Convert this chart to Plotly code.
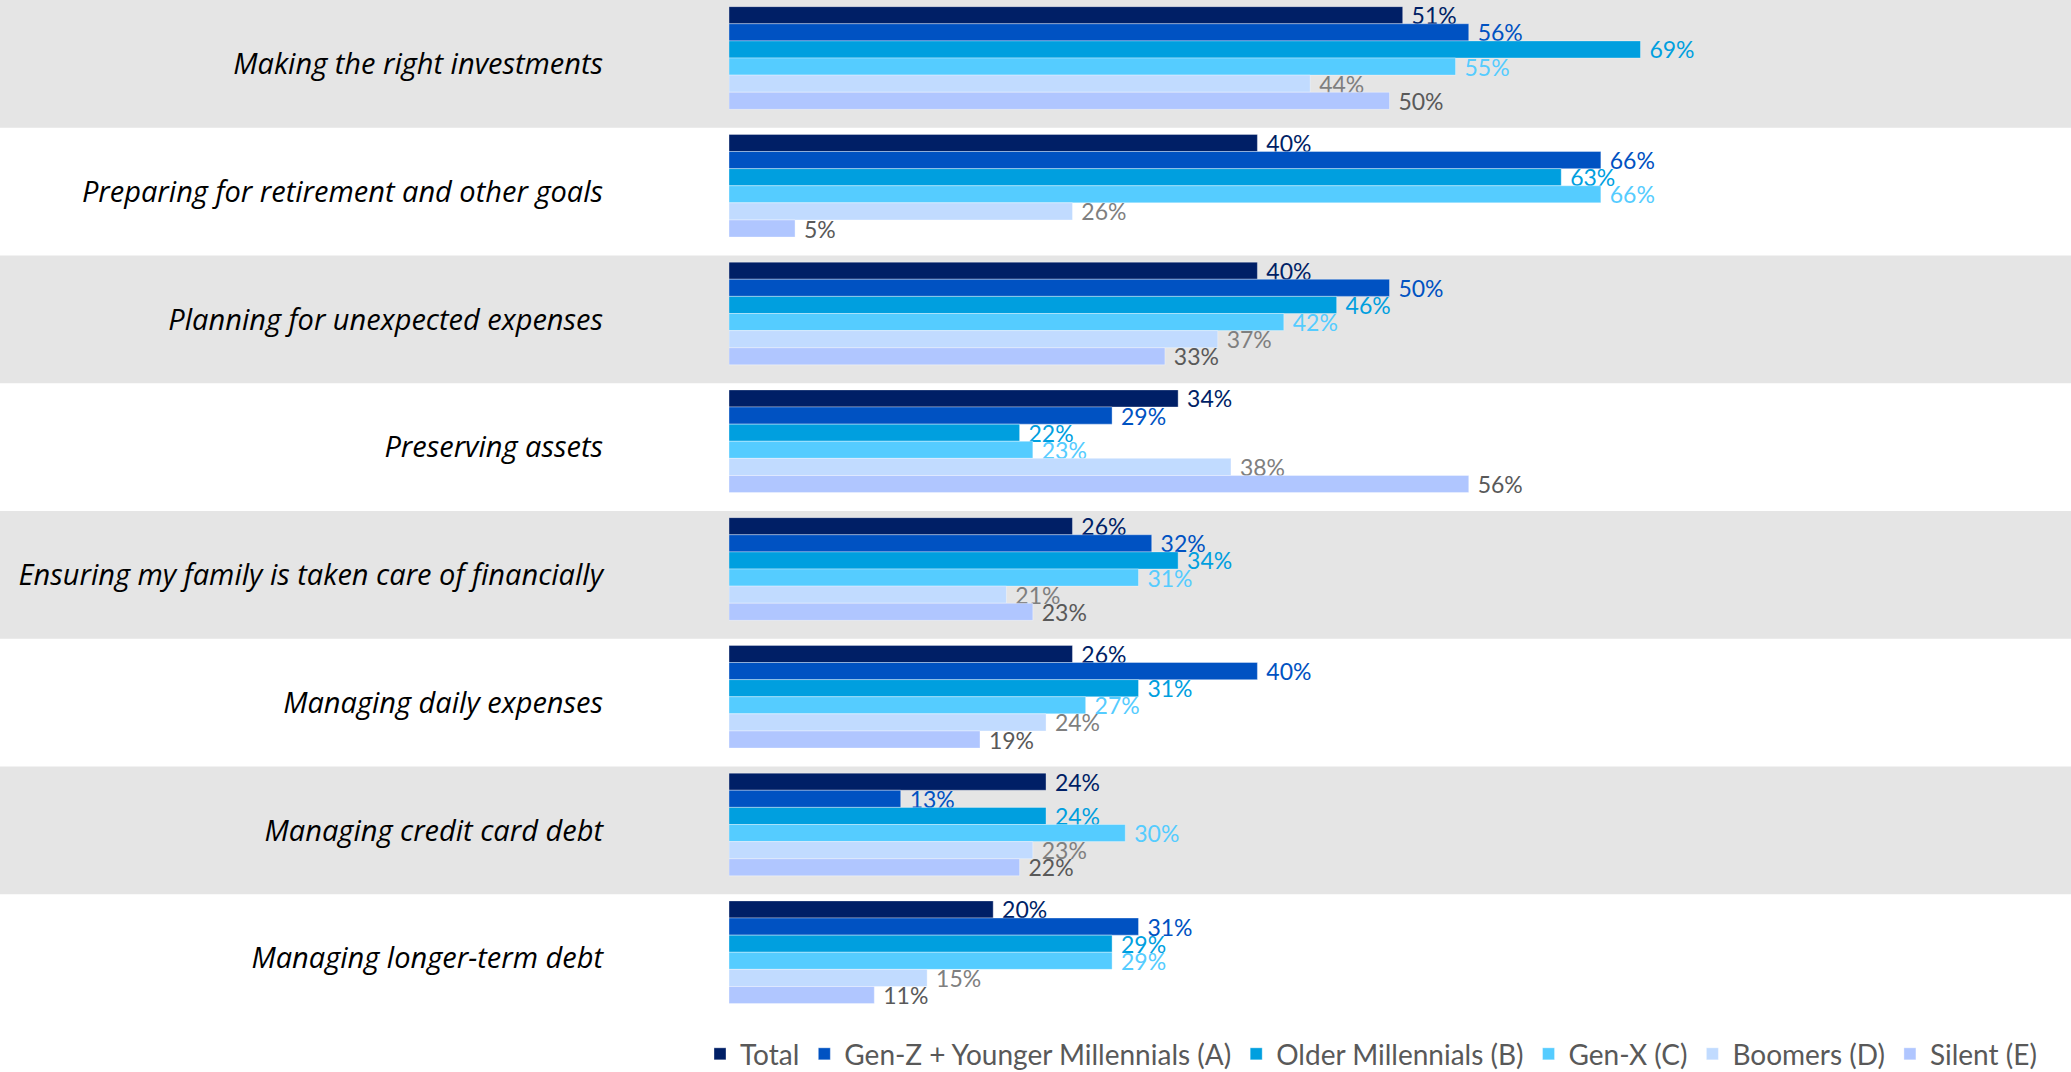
import plotly.graph_objects as go

# Survey categories, top to bottom
categories = [
    "Making the right investments",
    "Preparing for retirement and other goals",
    "Planning for unexpected expenses",
    "Preserving assets",
    "Ensuring my family is taken care of financially",
    "Managing daily expenses",
    "Managing credit card debt",
    "Managing longer-term debt",
]

# Percent of respondents per generation group
total = [51, 40, 40, 34, 26, 26, 24, 20]
genz_younger_mill = [56, 66, 50, 29, 32, 40, 13, 31]
older_mill = [69, 63, 46, 22, 34, 31, 24, 29]
gen_x = [55, 66, 42, 23, 31, 27, 30, 29]
boomers = [44, 26, 37, 38, 21, 24, 23, 15]
silent = [50, 5, 33, 56, 23, 19, 22, 11]

series_names = [
    "Total",
    "Gen-Z + Younger Millennials (A)",
    "Older Millennials (B)",
    "Gen-X (C)",
    "Boomers (D)",
    "Silent (E)",
]
series_values = [total, genz_younger_mill, older_mill, gen_x, boomers, silent]
bar_colors = ["#001F66", "#0052C2", "#009FDF", "#55CCFF", "#C1DBFF", "#B0C6FF"]
label_colors = ["#001F66", "#0052C2", "#009FDF", "#55CCFF", "#7F7F7F", "#595959"]

W, H = 2071, 1072
LEFT, BOTTOM = 729, 50
PX_PER_PCT = 13.21
x_max = (W - LEFT) / PX_PER_PCT

BAR_W = 0.134        # thickness of each bar, in category units
GROUP_START = -0.448  # top edge of the first bar relative to category centre

fig = go.Figure()
for i, (name, vals, col, lcol) in enumerate(zip(series_names, series_values, bar_colors, label_colors)):
    fig.add_trace(go.Bar(
        y=categories,
        x=vals,
        name=name,
        orientation="h",
        width=BAR_W,
        offset=GROUP_START + i * BAR_W,
        marker=dict(color=col, line=dict(color="rgba(255,255,255,0.35)", width=1)),
        text=[f"\u00a0{v}%" for v in vals],
        textposition="outside",
        constraintext="none",
        cliponaxis=False,
        textfont=dict(family="Lato, Open Sans, sans-serif", size=23, color=lcol),
        hoverinfo="skip",
    ))

# Alternating grey bands behind each category row, spanning the full width
plot_w = W - LEFT
for i in range(len(categories)):
    if i % 2 == 0:
        fig.add_shape(
            type="rect", layer="below",
            xref="paper", yref="y",
            x0=-LEFT / plot_w, x1=1.0,
            y0=i - 0.5, y1=i + 0.5,
            fillcolor="#E5E5E5", line=dict(width=0),
        )

fig.update_layout(
    width=W, height=H,
    margin=dict(l=LEFT, r=0, t=0, b=BOTTOM, autoexpand=False),
    paper_bgcolor="white",
    plot_bgcolor="rgba(0,0,0,0)",
    barmode="group",
    showlegend=True,
    legend=dict(
        orientation="h",
        xref="container", yref="container",
        x=0.662, y=0.04,
        xanchor="center", yanchor="top",
        font=dict(family="Lato, Open Sans, sans-serif", size=28, color="#595959"),
        itemwidth=30,
        tracegroupgap=0,
        borderwidth=0,
    ),
    xaxis=dict(
        range=[0, x_max],
        showgrid=False, zeroline=False, showticklabels=False, showline=False,
    ),
    yaxis=dict(
        autorange="reversed",
        showgrid=False, zeroline=False, showline=False,
        ticks="",
        ticklabelstandoff=125,
        tickfont=dict(family="Open Sans, sans-serif", size=29, color="black"),
    ),
)

# Italic category labels
fig.update_yaxes(ticktext=[f"<i>{c}</i>" for c in categories], tickvals=categories)

fig.write_html("out.html")
